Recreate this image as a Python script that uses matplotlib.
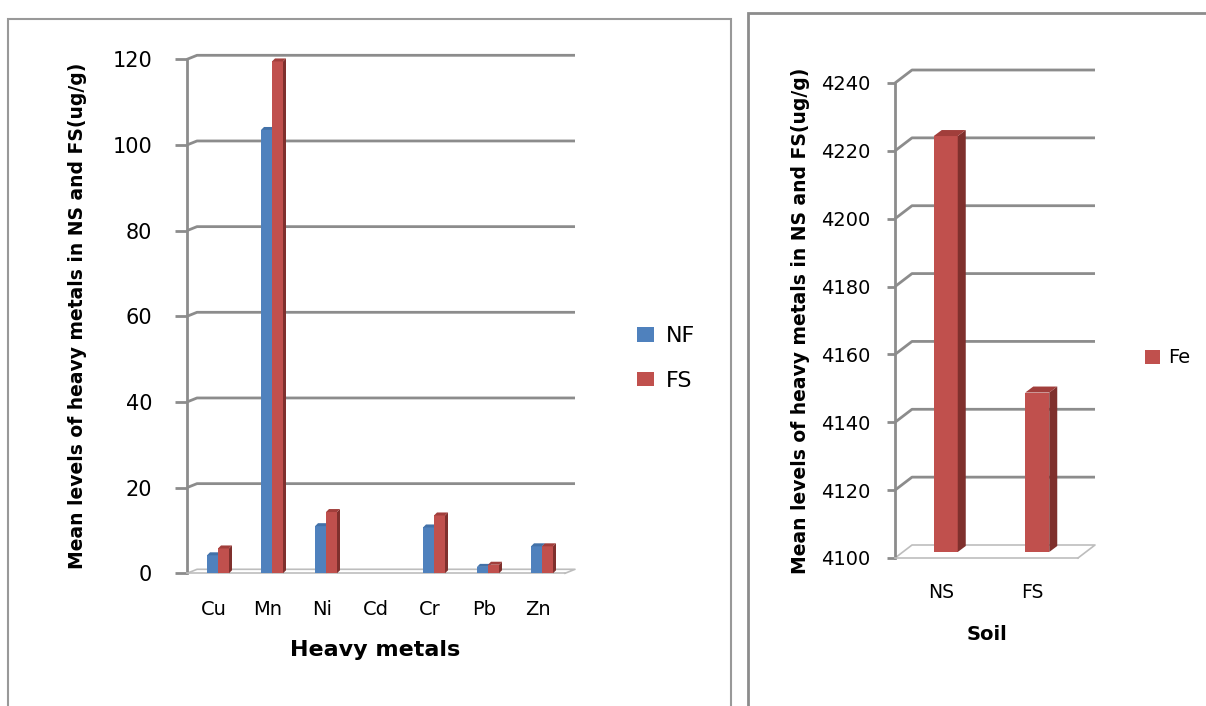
import numpy as np
import matplotlib.pyplot as plt
from matplotlib.patches import Polygon, Rectangle

W, H = 1206, 706

# left chart data
metals = ['Cu', 'Mn', 'Ni', 'Cd', 'Cr', 'Pb', 'Zn']
nf = [4.2, 103.5, 11.0, 0, 10.7, 1.5, 6.3]
fs = [5.8, 119.5, 14.3, 0, 13.5, 2.0, 6.3]
left_ticks = [0, 20, 40, 60, 80, 100, 120]

# right chart data
soils = ['NS', 'FS']
fe = [4222.6, 4147]
right_ticks = [4100, 4120, 4140, 4160, 4180, 4200, 4220, 4240]

blue, blue_side, blue_top = '#4F81BD', '#385D8A', '#4271A8'
red, red_side, red_top = '#C0504D', '#7F302D', '#A13E3B'
grid_c = '#8C8C8C'
floor_c = '#BDBDBD'

fig = plt.figure(figsize=(W / 100, H / 100), dpi=100)


def axes_px(left, top, right, bottom):
    return fig.add_axes([left / W, 1 - bottom / H, (right - left) / W, (bottom - top) / H])


def setup(ax, ticks, gd, ux, uy, tlen, tpad, tsize, xpad, xsize):
    for s in ['top', 'right']:
        ax.spines[s].set_visible(False)
    ax.spines['left'].set_color(grid_c)
    ax.spines['left'].set_linewidth(2)
    ax.spines['bottom'].set_color(floor_c)
    ax.spines['bottom'].set_linewidth(1.2)
    ax.set_yticks(ticks)
    ax.tick_params(axis='y', length=tlen, width=2, color=grid_c, pad=tpad, labelsize=tsize)
    ax.tick_params(axis='x', length=0, pad=xpad, labelsize=xsize)
    gx, gy = gd[0] * ux, gd[1] * uy
    x0, x1 = ax.get_xlim()
    for v in ticks[1:]:
        ax.plot([x0, x0 + gx, x1 + gx], [v, v + gy, v + gy], color=grid_c, lw=2,
                clip_on=False, zorder=1, solid_capstyle='butt')
    t0 = ticks[0]
    ax.plot([x0, x0 + gx, x1 + gx, x1], [t0, t0 + gy, t0 + gy, t0], color=floor_c,
            lw=1.2, clip_on=False, zorder=1)


def bars3d(ax, xs, vals, w, base, colors, shift, depth, ux, uy, z):
    color, side, top = colors
    sx, sy = shift[0] * ux, shift[1] * uy
    dx, dy = depth[0] * ux, depth[1] * uy
    xs = np.asarray(xs, dtype=float) + sx
    vals = np.asarray(vals, dtype=float)
    cont = ax.bar(xs, vals - base, width=w, bottom=base + sy, color=color,
                  zorder=z, clip_on=False, linewidth=0)
    for x, v in zip(xs, vals):
        if v - base <= 0:
            continue
        l, r, b, t = x - w / 2, x + w / 2, base + sy, v + sy
        ax.add_patch(Polygon([(r, b), (r, t), (r + dx, t + dy), (r + dx, b + dy)],
                             closed=True, fc=side, lw=0, zorder=z, clip_on=False))
        ax.add_patch(Polygon([(l, t), (r, t), (r + dx, t + dy), (l + dx, t + dy)],
                             closed=True, fc=top, lw=0, zorder=z, clip_on=False))
    return cont


# ---- left panel ----
ax1 = axes_px(187, 59.3, 565, 573.3)
ax1.set_xlim(-0.5, 6.5)
ax1.set_ylim(0, 120)
ux1, uy1 = 7 / 378, 120 / 514
setup(ax1, left_ticks, (10, 4), ux1, uy1, 8.6, 16.5, 15, 19, 14)
x = np.arange(len(metals))
ax1.set_xticks(x)
ax1.set_xticklabels(metals)
w1 = 11 * ux1
c_nf = bars3d(ax1, x - w1 / 2, nf, w1, 0, (blue, blue_side, blue_top), (4, 0), (3, 3), ux1, uy1, 3)
c_fs = bars3d(ax1, x + w1 / 2, fs, w1, 0, (red, red_side, red_top), (4, 0), (3, 3), ux1, uy1, 4)

fig.legend([c_nf, c_fs], ['NF', 'FS'], loc='center left',
           bbox_to_anchor=(637 / W, 1 - 358.5 / H), frameon=False, fontsize=16,
           handlelength=0.75, handleheight=0.65, handletextpad=0.55,
           labelspacing=1.1, borderpad=0, borderaxespad=0)

fig.text(375 / W, 1 - 650 / H, 'Heavy metals', ha='center', va='center',
         fontsize=16, fontweight='bold')
fig.text(78 / W, 1 - 316 / H, 'Mean levels of heavy metals in NS and FS(ug/g)',
         rotation=90, ha='center', va='center', fontsize=13.5, fontweight='bold')

# ---- right panel ----
ax2 = axes_px(895, 83, 1078, 558)
ax2.set_xlim(-0.5, 1.5)
ax2.set_ylim(4100, 4240)
ux2, uy2 = 2 / 183, 140 / 475
setup(ax2, right_ticks, (17, 13), ux2, uy2, 5.8, 12, 14, 18, 13.5)
x2 = np.arange(len(soils))
ax2.set_xticks(x2)
ax2.set_xticklabels(soils)
w2 = 24 * ux2
c_fe = bars3d(ax2, x2, fe, w2, 4100, (red, red_side, red_top), (5, 6), (8, 6), ux2, uy2, 3)

fig.legend([c_fe], ['Fe'], loc='center left',
           bbox_to_anchor=(1145 / W, 1 - 358 / H), frameon=False, fontsize=14,
           handlelength=0.75, handleheight=0.75, handletextpad=0.45,
           borderpad=0, borderaxespad=0)

fig.text(987 / W, 1 - 635 / H, 'Soil', ha='center', va='center',
         fontsize=14, fontweight='bold')
fig.text(800 / W, 1 - 321 / H, 'Mean levels of heavy metals in NS and FS(ug/g)',
         rotation=90, ha='center', va='center', fontsize=13.5, fontweight='bold')

# panel frames
fig.add_artist(Rectangle((8 / W, -0.05), (731 - 8) / W, 1 - 19 / H + 0.05,
                         transform=fig.transFigure, fill=False, ec='#999999', lw=1.5))
fig.add_artist(Rectangle((748 / W, -0.05), 1, 1 - 13 / H + 0.05,
                         transform=fig.transFigure, fill=False, ec='#8C8C8C', lw=2))

fig.savefig('out.png', dpi=100)
